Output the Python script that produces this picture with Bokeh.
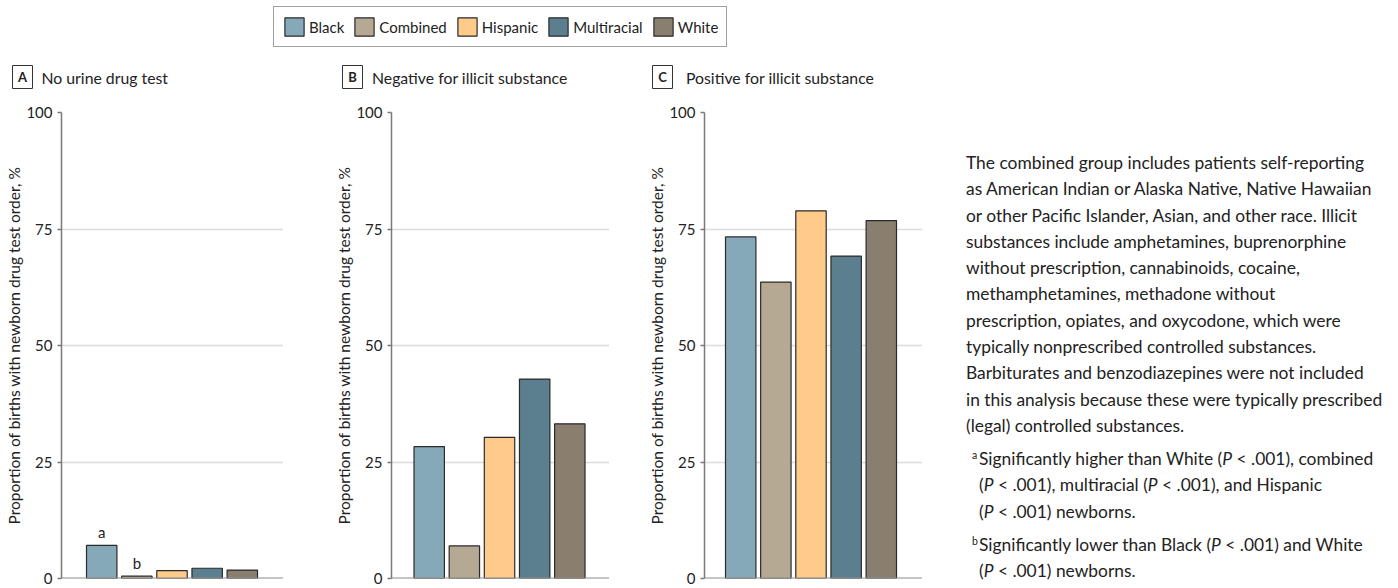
from bokeh.plotting import figure
from bokeh.models import Range1d, FixedTicker, Span, Legend, LegendItem, Div, ColumnDataSource
from bokeh.layouts import row, column
from bokeh.core.properties import value
from bokeh.embed import file_html
from bokeh.resources import INLINE

# ---------------- data ----------------
categories = ["Black", "Combined", "Hispanic", "Multiracial", "White"]
no_test = [7.1, 0.5, 1.7, 2.2, 1.8]
negative = [28.3, 7.0, 30.3, 42.8, 33.2]
positive = [73.3, 63.6, 78.9, 69.2, 76.8]
notes_no_test = ["a", "b", "", "", ""]
notes_empty = ["", "", "", "", ""]
y_ticks = [0, 25, 50, 75, 100]
panel_keys = ["A", "B", "C"]
panel_titles = ["No urine drug test", "Negative for illicit substance", "Positive for illicit substance"]
y_title = "Proportion of births with newborn drug test order, %"

main_lines = [
    "The combined group includes patients self-reporting",
    "as American Indian or Alaska Native, Native Hawaiian",
    "or other Pacific Islander, Asian, and other race. Illicit",
    "substances include amphetamines, buprenorphine",
    "without prescription, cannabinoids, cocaine,",
    "methamphetamines, methadone without",
    "prescription, opiates, and oxycodone, which were",
    "typically nonprescribed controlled substances.",
    "Barbiturates and benzodiazepines were not included",
    "in this analysis because these were typically prescribed",
    "(legal) controlled substances.",
]
footnote_a = [
    "Significantly higher than White (<i>P</i> &lt; .001), combined",
    "(<i>P</i> &lt; .001), multiracial (<i>P</i> &lt; .001), and Hispanic",
    "(<i>P</i> &lt; .001) newborns.",
]
footnote_b = [
    "Significantly lower than Black (<i>P</i> &lt; .001) and White",
    "(<i>P</i> &lt; .001) newborns.",
]

# ---------------- styles ----------------
colors = ["#85a9b9", "#b5a993", "#fecb8b", "#5c7f8f", "#8a7f6f"]
FONT = "Lato"
TXT = "#222222"
BAR_LINE = "#2a2a2a"
positions = list(range(1, len(categories) + 1))

# layout geometry (pixels)
TOP_H = 90
FIG_H = 497
BORDER_TOP = 22
FRAME_H = 466
BORDER_BOTTOM = FIG_H - BORDER_TOP - FRAME_H

panel_geo = [
    dict(border_left=61, frame_w=222, x_start=-0.144, box_x=22, title_x=41),
    dict(border_left=108, frame_w=218, x_start=-0.073, box_x=352, title_x=371.5),
    dict(border_left=95, frame_w=218, x_start=-0.030, box_x=662, title_x=685.5),
]
UNIT_PX = 35.15
panel_values = [no_test, negative, positive]
panel_notes = [notes_no_test, notes_empty, notes_empty]

# ---------------- top strip: legend + panel headers ----------------
top = figure(width=1398, height=TOP_H, output_backend="svg", toolbar_location=None,
             x_range=Range1d(0, 1398), y_range=Range1d(TOP_H, 0),
             x_axis_type=None, y_axis_type=None,
             min_border=0, min_border_left=0, min_border_right=0, min_border_top=0, min_border_bottom=0)
top.grid.visible = False
top.outline_line_color = None
top.background_fill_color = "white"
top.border_fill_color = "white"

leg_src = ColumnDataSource(dict(x=[700] * len(categories), top=[5001] * len(categories),
                                bottom=[5000] * len(categories), color=colors))
leg_r = top.vbar(x="x", top="top", bottom="bottom", width=1, source=leg_src,
                 fill_color="color", line_color=BAR_LINE, line_width=1.2)
items = [LegendItem(label=cat, renderers=[leg_r], index=i) for i, cat in enumerate(categories)]
legend = Legend(items=items, orientation="horizontal", location=(273, TOP_H - 47), margin=0,
                padding=8, spacing=8, glyph_width=24, glyph_height=23, label_standoff=3,
                label_text_font=FONT, label_text_font_size="15px", label_text_color=TXT,
                label_height=23,
                border_line_color="#444444", border_line_width=1, background_fill_color="white")
top.add_layout(legend, "center")

hdr = ColumnDataSource(dict(
    bx=[g["box_x"] for g in panel_geo], tx=[g["title_x"] for g in panel_geo],
    y=[76.5] * 3, key=panel_keys, title=panel_titles))
top.rect(x="bx", y="y", width=20, height=23, source=hdr, fill_color="white",
         line_color="#333333", line_width=1)
top.text(x="bx", y="y", text="key", source=hdr, text_align="center", text_baseline="middle",
         text_font=value(FONT), text_font_style="bold", text_font_size="13px", text_color=TXT)
top.text(x="tx", y="y", text="title", source=hdr, text_align="left", text_baseline="middle",
         text_font=value(FONT), text_font_size="15.8px", text_color=TXT)

# ---------------- panels ----------------
figs = []
for vals, notes, geo in zip(panel_values, panel_notes, panel_geo):
    w = geo["border_left"] + geo["frame_w"]
    x_end = geo["x_start"] + geo["frame_w"] / UNIT_PX
    p = figure(width=w, height=FIG_H, output_backend="svg", toolbar_location=None,
               x_range=Range1d(geo["x_start"], x_end), y_range=Range1d(0, 100),
               min_border_left=geo["border_left"], min_border_right=0,
               min_border_top=BORDER_TOP, min_border_bottom=BORDER_BOTTOM)
    p.outline_line_color = None
    p.background_fill_color = "white"
    p.border_fill_color = "white"
    p.xaxis.visible = False
    p.xgrid.visible = False
    p.ygrid.ticker = FixedTicker(ticks=y_ticks)
    p.ygrid.grid_line_color = "#dcdcdc"
    p.ygrid.grid_line_width = 1.5
    yax = p.yaxis[0]
    yax.ticker = FixedTicker(ticks=y_ticks)
    yax.axis_label = y_title
    yax.axis_label_text_font = FONT
    yax.axis_label_text_font_size = "15.5px"
    yax.axis_label_text_font_style = "normal"
    yax.axis_label_text_color = TXT
    yax.axis_label_standoff = 0
    yax.major_label_text_font = FONT
    yax.major_label_text_font_size = "15px"
    yax.major_label_text_color = TXT
    yax.major_label_standoff = 5
    yax.axis_line_color = "#7a7a7a"
    yax.axis_line_width = 1.5
    yax.major_tick_line_color = "#7a7a7a"
    yax.major_tick_line_width = 1.5
    yax.major_tick_out = 4
    yax.major_tick_in = 0
    yax.minor_tick_line_color = None

    src = ColumnDataSource(dict(x=positions, top=vals, color=colors, note=notes, cat=categories))
    p.vbar(x="x", top="top", bottom=0, width=0.865, source=src, fill_color="color",
           line_color=BAR_LINE, line_width=1.2)
    p.text(x="x", y="top", text="note", source=src, text_align="center", text_baseline="bottom",
           y_offset=-4, text_font=value(FONT), text_font_size="15px", text_color=TXT)
    p.add_layout(Span(location=0, dimension="width", line_color="#8c8c8c", line_width=2))
    figs.append(p)

# ---------------- notes ----------------
LH = 26.3
html = ['<div style="font-family: Lato; font-size: 17.4px; line-height: %spx; color: %s; '
        'padding: 55px 0 0 39px; white-space: nowrap;">' % (LH, TXT)]
html.append("<div>" + "<br>".join(main_lines) + "</div>")
for mark, lines, gap in (("a", footnote_a, 6.8), ("b", footnote_b, 6.7)):
    html.append('<div style="position: relative; margin-top: %spx; padding-left: 13px;">'
                '<span style="position: absolute; left: 6px; top: 4px; font-size: 10.5px; line-height: 10px;">%s</span>'
                % (gap, mark) + "<br>".join(lines) + "</div>")
html.append("</div>")
notes_div = Div(text="".join(html), width=468, height=FIG_H)

layout = column(top, row(*figs, notes_div))
open("out.html", "w").write(file_html(layout, INLINE))
